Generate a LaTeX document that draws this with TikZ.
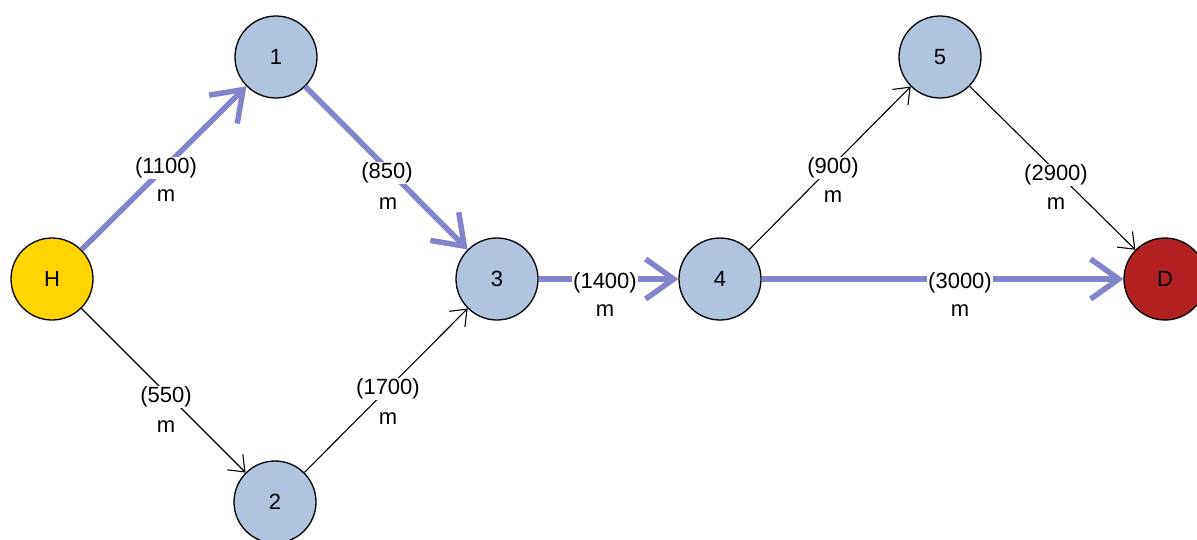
\documentclass[tikz,border=0pt]{standalone}
\usepackage{fontspec}
\setmainfont{Liberation Sans}
\usetikzlibrary{arrows.meta}
\definecolor{edgeblue}{RGB}{132,132,204}
\definecolor{nodeblue}{RGB}{176,196,222}
\definecolor{hgold}{RGB}{255,212,0}
\definecolor{dred}{RGB}{178,34,34}
\tikzset{
  vert/.style={circle, draw=black, line width=1.3pt, minimum size=82pt, inner sep=0pt, font=\fontsize{22}{25}\selectfont},
  bestedge/.style={draw=edgeblue, line width=5.5pt, -{Straight Barb[length=28pt,width=40pt]}},
  plainedge/.style={draw=black, line width=1.1pt, -{Straight Barb[length=14pt,width=22pt]}},
  dist/.style={fill=white, inner sep=1pt, font=\fontsize{22}{25}\selectfont},
  unit/.style={inner sep=1pt, font=\fontsize{22}{25}\selectfont}
}
\begin{document}
\begin{tikzpicture}[x=1pt,y=-1pt]
\useasboundingbox (0,0) rectangle (1197,539);
\clip (0,0) rectangle (1197,539);
\node[vert, fill=hgold] (H) at (52,279) {H};
\node[vert, fill=nodeblue] (n1) at (276,57) {1};
\node[vert, fill=nodeblue] (n2) at (275,502) {2};
\node[vert, fill=nodeblue] (n3) at (497,279) {3};
\node[vert, fill=nodeblue] (n4) at (720,279) {4};
\node[vert, fill=nodeblue] (n5) at (940,57) {5};
\node[vert, fill=dred] (D) at (1165,279) {D};
\draw[bestedge] (H) -- (n1);
\draw[bestedge] (n1) -- (n3);
\draw[bestedge] (n3) -- (n4);
\draw[bestedge] (n4) -- (D);
\draw[plainedge] (H) -- (n2);
\draw[plainedge] (n2) -- (n3);
\draw[plainedge] (n4) -- (n5);
\draw[plainedge] (n5) -- (D);
\node[dist] (l1) at (166,168) {(1100)};
\node[unit] (u1) at (166,196) {m};
\node[dist] (l2) at (387,173) {(850)};
\node[unit] (u2) at (388,204) {m};
\node[dist] (l3) at (605,283) {(1400)};
\node[unit] (u3) at (605,311) {m};
\node[dist] (l4) at (960,283) {(3000)};
\node[unit] (u4) at (960,311) {m};
\node[dist] (l5) at (833,168) {(900)};
\node[unit] (u5) at (833,197) {m};
\node[dist] (l6) at (1056,175) {(2900)};
\node[unit] (u6) at (1056,204) {m};
\node[dist] (l7) at (166,397) {(550)};
\node[unit] (u7) at (166,427) {m};
\node[dist] (l8) at (388,389) {(1700)};
\node[unit] (u8) at (388,419) {m};
\end{tikzpicture}
\end{document}
